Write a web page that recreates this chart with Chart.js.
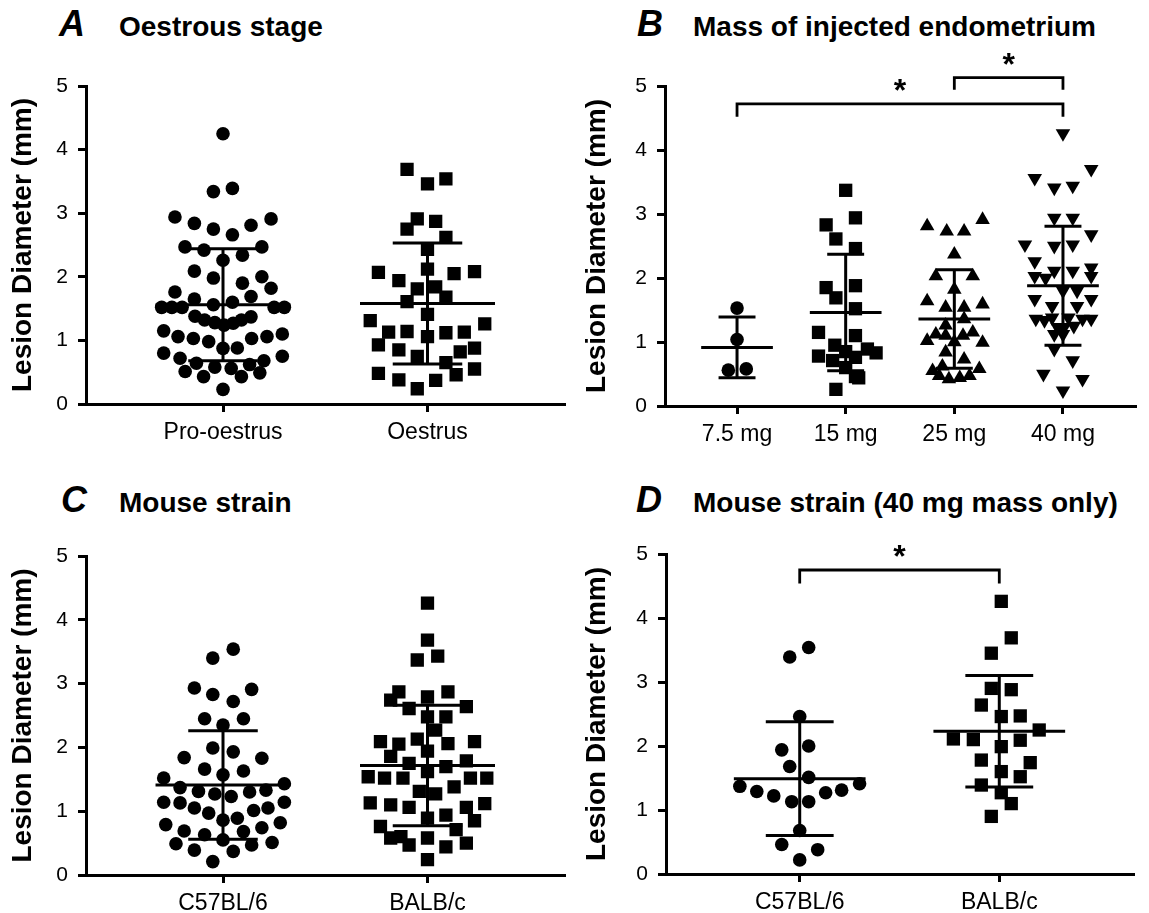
<!DOCTYPE html>
<html>
<head>
<meta charset="utf-8">
<script src="https://cdn.jsdelivr.net/npm/chart.js@4"></script>
<style>
  html,body{margin:0;padding:0;background:#fff;}
  body{width:1149px;height:913px;position:relative;overflow:hidden;font-family:"Liberation Sans",Arial,sans-serif;}
  canvas{position:absolute;}
  .ttl{position:absolute;white-space:nowrap;font-size:36px;line-height:40px;color:#000;}
  .ttl .l{display:inline-block;font-weight:bold;font-style:italic;font-size:36px;}
  .ttl .t{font-weight:bold;font-size:28px;}
</style>
</head>
<body>
<div class="ttl" style="left:59px;top:4px"><span class="l" style="width:60px">A</span><span class="t">Oestrous stage</span></div>
<div class="ttl" style="left:637px;top:4px"><span class="l" style="width:56px">B</span><span class="t">Mass of injected endometrium</span></div>
<div class="ttl" style="left:61px;top:480px"><span class="l" style="width:58px">C</span><span class="t">Mouse strain</span></div>
<div class="ttl" style="left:636px;top:480px"><span class="l" style="width:57px">D</span><span class="t">Mouse strain (40 mg mass only)</span></div>

<script>
// ---------------- DATA ----------------
const yTicks = [0, 1, 2, 3, 4, 5];
const yTitle = 'Lesion Diameter (mm)';

// Panel A – Oestrous stage
const catsA = ['Pro-oestrus', 'Oestrus'];
const proOestrusVals = [4.25,3.34,3.39,2.94,2.91,2.84,2.81,2.75,2.66,2.47,2.42,2.47,2.34,2.26,2.09,1.98,2.00,1.90,1.82,1.76,1.69,1.65,1.60,1.56,1.52,1.52,1.52,1.52,1.52,1.38,1.32,1.28,1.24,1.27,1.32,1.37,1.15,1.06,1.03,0.98,1.03,1.06,1.10,0.875,0.88,0.80,0.75,0.72,0.68,0.64,0.58,0.56,0.62,0.51,0.43,0.43,0.49,0.23];
const proOestrusJit  = [0,-0.047,0.046,-0.235,0.235,-0.14,0.137,-0.047,0.046,-0.186,-0.093,0.19,0.095,0,-0.14,-0.047,0.19,0.095,0.235,-0.235,0.137,-0.14,0.046,-0.047,-0.30,-0.25,-0.20,0.25,0.30,-0.137,-0.09,-0.04,0.005,0.05,0.09,0.137,-0.29,-0.22,-0.145,-0.07,0.14,0.215,0.29,0,0.07,-0.29,0.29,-0.21,0.20,-0.13,-0.04,0.04,0.13,-0.185,-0.095,0.09,0.18,0];
const oestrusVals = [3.69,3.54,3.46,2.91,2.87,2.75,2.62,2.43,2.07,2.08,1.94,2.12,2.05,1.81,1.84,1.61,1.68,1.41,1.31,1.26,1.13,1.14,1.06,1.12,1.13,0.93,0.85,0.88,0.82,0.75,0.65,0.48,0.38,0.37,0.46,0.55,0.24];
const oestrusJit  = [-0.10,0.09,0,-0.05,0.04,-0.10,0.09,0,-0.24,0.23,-0.14,0,0.13,-0.05,0.04,-0.10,0.09,0,-0.28,0.28,-0.19,-0.10,0,0.09,0.18,-0.24,-0.14,0.23,0.16,-0.05,0.09,-0.24,-0.14,0.04,0.14,0.23,-0.05];
const meanA = [1.56, 1.58];
const sdA   = [0.88, 0.95];

// Panel B – Mass of injected endometrium
const catsB = ['7.5 mg', '15 mg', '25 mg', '40 mg'];
const mg7Vals = [1.53,1.04,0.56,0.58];
const mg7Jit  = [0,0,-0.08,0.085];
const mg15Vals = [3.37,2.94,2.83,2.61,2.46,1.85,1.88,1.69,1.52,1.15,1.10,0.95,0.78,0.71,0.85,0.89,0.83,0.76,0.60,0.46,0.44,0.26];
const mg15Jit  = [0,0.09,-0.18,-0.09,0.09,-0.18,0.09,-0.09,0.09,-0.25,0.09,-0.10,-0.25,-0.12,0,0.20,0.28,0.09,0,0.09,0.12,-0.09];
const mg25Vals = [2.81,2.73,2.73,2.91,2.37,2.03,2.03,1.82,1.64,1.59,1.54,1.54,1.36,1.26,1.12,1.15,1.02,0.99,1.10,1.10,1.00,0.84,0.73,0.55,0.62,0.58,0.47,0.42,0.44,0.47];
const mg25Jit  = [-0.25,-0.07,0.09,0.26,0,-0.17,0.17,0,-0.25,0.26,-0.08,0.09,0.09,-0.08,-0.17,0.17,-0.25,0.26,-0.08,0.08,0,-0.08,0.09,-0.20,-0.11,0.23,-0.14,-0.05,0.05,0.14];
const mg40Vals = [4.26,3.70,3.56,3.41,3.44,2.94,2.94,2.68,2.52,2.50,2.52,2.26,2.11,2.11,2.16,2.03,2.00,2.03,1.80,1.80,1.67,1.67,1.56,1.56,1.36,1.34,1.38,1.38,1.36,1.36,1.23,1.23,1.25,1.12,1.12,0.89,0.71,0.50,0.42,0.24];
const mg40Jit  = [0,0.26,-0.26,-0.08,0.09,-0.08,0.09,0.26,-0.35,-0.08,0.09,-0.26,-0.08,0.09,0.26,-0.26,-0.16,0.26,0,0.13,-0.26,0.26,-0.10,0.13,-0.25,-0.17,-0.10,0.05,0.18,0.26,-0.05,0.01,0.10,-0.08,0,-0.08,0.09,-0.18,0.18,0];
const meanB = [0.915, 1.46, 1.36, 1.88];
const sdB   = [0.475, 0.91, 0.77, 0.93];
const bracketsB = [[0, 3, 4.52, 4.72], [2, 3, 4.94, 5.13]]; // from, to, leg end, bar height

// Panel C – Mouse strain
const catsC = ['C57BL/6', 'BALB/c'];
const c57Vals = [3.40,3.54,2.93,2.91,2.83,2.72,2.45,2.45,2.35,1.99,1.93,1.84,1.83,1.66,1.63,1.57,1.52,1.43,1.37,1.31,1.27,1.23,1.30,1.33,1.14,1.13,1.14,1.05,1.05,1.01,0.97,0.89,0.86,0.79,0.82,0.69,0.74,0.63,0.68,0.55,0.49,0.51,0.47,0.39,0.37,0.21];
const c57Jit  = [-0.05,0.05,-0.14,0.14,-0.05,0.05,-0.09,0.10,0,-0.05,0.05,-0.19,0.19,-0.09,0.10,0,-0.29,0.30,-0.21,-0.12,-0.04,0.04,0.13,0.21,-0.29,-0.21,0.30,-0.14,0.22,0.15,-0.07,0.07,0,-0.28,0.28,-0.19,0.19,-0.09,0.10,0,-0.23,0.24,0.14,-0.14,0.05,-0.05];
const balbVals = [4.26,3.68,3.37,3.43,2.87,2.87,2.74,2.79,2.61,2.64,2.48,2.48,2.27,2.09,2.05,2.13,2.06,2.09,1.86,1.94,1.75,1.79,1.70,1.62,1.54,1.52,1.52,1.52,1.52,1.38,1.31,1.27,1.13,1.10,1.06,1.06,1.12,0.94,0.89,0.85,0.76,0.71,0.58,0.60,0.58,0.47,0.44,0.50,0.24];
const balbJit  = [0,0,-0.05,0.05,-0.14,0.10,-0.18,0,-0.09,0.19,0,0.09,0.04,-0.23,-0.14,-0.05,0.10,0.23,-0.18,0,-0.09,0.19,0.09,0,-0.29,-0.21,-0.12,0.21,0.29,0.13,-0.04,0.04,-0.28,-0.18,-0.09,0.19,0.28,0.09,0,0.23,-0.23,0.14,-0.18,-0.13,0,-0.09,0.09,0.19,0];
const meanC = [1.41, 1.715];
const sdC   = [0.85, 0.945];

// Panel D – Mouse strain (40 mg mass only)
const catsD = ['C57BL/6', 'BALB/c'];
const c57d40Vals = [3.54,3.39,2.46,1.94,2.00,1.68,1.51,1.37,1.29,1.22,1.13,1.13,1.27,1.31,1.41,0.68,0.46,0.38,0.22];
const c57d40Jit  = [0.045,-0.05,0,-0.09,0.045,-0.05,0.045,-0.30,-0.215,-0.13,-0.04,0.045,0.13,0.21,0.30,0,-0.09,0.09,0];
const balbd40Vals = [4.26,3.69,3.45,2.90,2.88,2.64,2.46,2.47,2.11,2.10,2.25,1.99,2.09,1.78,1.74,1.60,1.52,1.39,1.27,1.10,0.90];
const balbd40Jit  = [0.01,0.06,-0.04,-0.04,0.06,-0.09,0.01,0.105,-0.23,-0.13,0.20,0.01,0.105,-0.09,0.155,0.01,0.105,-0.09,0.01,0.06,-0.04];
const meanD = [1.49, 2.23];
const sdD   = [0.89, 0.87];
const bracketsD = [[0, 1, 4.54, 4.75]];

// ---------------- RENDERING ----------------
const FF = '"Liberation Sans", Arial, sans-serif';
const CIRCLE = {ps:'circle', r:6.8, rot:0};
const SQUARE = {ps:'rect', r:9.4, rot:0};
const TRI_UP = {ps:'triangle', r:8.4, rot:0};
const TRI_DN = {ps:'triangle', r:8.4, rot:180};

function pointsDataset(i, vals, jit, st){
  return {
    type:'scatter',
    data: vals.map((v,k)=>({x:i+jit[k], y:v})),
    pointStyle: st.ps, rotation: st.rot, pointRadius: st.r, pointHoverRadius: st.r,
    backgroundColor:'#000', borderColor:'#000', borderWidth:0, order:2
  };
}
function errDataset(i, m, s){
  const hw = 0.33, cw = 0.17;
  return {
    type:'scatter', showLine:true, spanGaps:false,
    data:[
      {x:i-hw,y:m},{x:i+hw,y:m},{x:i,y:null},
      {x:i-cw,y:m+s},{x:i+cw,y:m+s},{x:i,y:null},
      {x:i-cw,y:m-s},{x:i+cw,y:m-s},{x:i,y:null},
      {x:i,y:m-s},{x:i,y:m+s}
    ],
    borderColor:'#000', borderWidth:3, pointRadius:0, pointHoverRadius:0, order:1
  };
}
function bracketPlugin(list){
  return {
    id:'brackets',
    afterDraw(chart){
      const ctx = chart.ctx, xs = chart.scales.x, ys = chart.scales.y;
      ctx.save();
      ctx.strokeStyle = '#000'; ctx.lineWidth = 2.8; ctx.lineCap = 'butt'; ctx.lineJoin = 'miter';
      list.forEach(b=>{
        const x0 = xs.getPixelForValue(b[0]), x1 = xs.getPixelForValue(b[1]);
        const yl = ys.getPixelForValue(b[2]), yt = ys.getPixelForValue(b[3]);
        ctx.beginPath();
        ctx.moveTo(x0, yl); ctx.lineTo(x0, yt); ctx.lineTo(x1, yt); ctx.lineTo(x1, yl);
        ctx.stroke();
        ctx.fillStyle = '#000';
        ctx.font = 'bold 32px ' + FF;
        ctx.textAlign = 'center'; ctx.textBaseline = 'alphabetic';
        ctx.fillText('*', (x0+x1)/2, yt - 3);
      });
      ctx.restore();
    }
  };
}

const panels = [
  {left:0, top:0, w:574, h:470, area:{l:86, r:564.5, t:86, b:404}, pad:0.67, cats:catsA,
   groups:[[proOestrusVals,proOestrusJit,CIRCLE],[oestrusVals,oestrusJit,SQUARE]], mean:meanA, sd:sdA, brackets:[]},
  {left:574, top:0, w:575, h:470, area:{l:91, r:561, t:86, b:406}, pad:0.663, cats:catsB,
   groups:[[mg7Vals,mg7Jit,CIRCLE],[mg15Vals,mg15Jit,SQUARE],[mg25Vals,mg25Jit,TRI_UP],[mg40Vals,mg40Jit,TRI_DN]], mean:meanB, sd:sdB, brackets:bracketsB},
  {left:0, top:470, w:574, h:443, area:{l:86, r:564.5, t:86, b:405}, pad:0.67, cats:catsC,
   groups:[[c57Vals,c57Jit,CIRCLE],[balbVals,balbJit,SQUARE]], mean:meanC, sd:sdC, brackets:[]},
  {left:574, top:470, w:575, h:443, area:{l:92, r:559, t:84, b:404}, pad:0.67, cats:catsD,
   groups:[[c57d40Vals,c57d40Jit,CIRCLE],[balbd40Vals,balbd40Jit,SQUARE]], mean:meanD, sd:sdD, brackets:bracketsD}
];

panels.forEach(P=>{
  const cv = document.createElement('canvas');
  cv.width = P.w; cv.height = P.h;
  cv.style.left = P.left + 'px'; cv.style.top = P.top + 'px';
  cv.style.width = P.w + 'px'; cv.style.height = P.h + 'px';
  document.body.appendChild(cv);

  const datasets = [];
  P.groups.forEach((g,i)=>{ datasets.push(errDataset(i, P.mean[i], P.sd[i])); });
  P.groups.forEach((g,i)=>{ datasets.push(pointsDataset(i, g[0], g[1], g[2])); });

  const gridOpts = {display:true, drawOnChartArea:false, drawTicks:true, tickLength:8, color:'#000', lineWidth:3};
  const borderOpts = {display:true, color:'#000', width:3};

  new Chart(cv, {
    type:'scatter',
    data:{datasets},
    plugins:[bracketPlugin(P.brackets)],
    options:{
      responsive:false, animation:false, devicePixelRatio:1, events:[],
      layout:{padding:{left:0, top:P.area.t, right:P.w-P.area.r, bottom:0}},
      plugins:{legend:{display:false}, tooltip:{enabled:false}},
      scales:{
        x:{
          type:'linear', min:-P.pad, max:P.cats.length-1+P.pad,
          afterBuildTicks:s=>{ s.ticks = P.cats.map((c,i)=>({value:i})); },
          afterFit:s=>{ s.height = P.h - P.area.b; },
          ticks:{callback:v=>P.cats[v], color:'#000', font:{family:FF, size:23}, padding:7, maxRotation:0, autoSkip:false},
          grid:gridOpts, border:borderOpts
        },
        y:{
          type:'linear', min:0, max:5,
          afterBuildTicks:s=>{ s.ticks = yTicks.map(v=>({value:v})); },
          afterFit:s=>{ s.width = P.area.l; },
          ticks:{color:'#000', font:{family:FF, size:21}, padding:10},
          grid:gridOpts, border:borderOpts,
          title:{display:true, text:yTitle, color:'#000', font:{family:FF, size:28, weight:'bold'}, padding:{top:6, bottom:0}}
        }
      }
    }
  });
});
</script>
</body>
</html>
